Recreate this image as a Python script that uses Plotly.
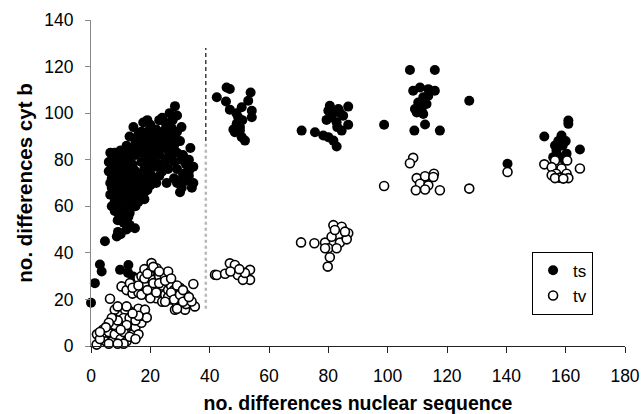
import plotly.graph_objects as go

# ---- data ----
ts_x = [
    # left cloud
    28.3, 26.5, 29, 27.5,
    14.3, 17.6, 20, 23, 25, 27, 30.5, 22, 19, 24,
    13, 16, 18, 21, 24, 26, 28, 30, 19, 15, 22, 27,
    6.5, 8, 10, 12, 14, 16, 18, 20, 22, 24, 26, 28, 33.5, 11, 17, 21, 25,
    6, 7.5, 9, 11, 13, 15, 17, 19, 21, 23, 25, 27, 30.5, 32, 14, 20,
    6, 8, 10, 12, 14, 16, 18, 20, 22, 24, 29, 31, 33, 11, 15, 19, 26,
    6.5, 8, 10, 12, 14, 16, 18, 20, 22, 25.5, 28, 30.6, 34.5, 32, 9, 13, 17,
    6.5, 8, 10, 12, 14, 16, 18, 9, 13, 7, 11, 15,
    7, 9, 11, 13, 15, 10, 8, 12,
    9.2, 12.6, 14.8, 11, 13,
    7, 9, 11, 13, 15, 17, 19, 21, 23, 8, 10, 12, 14, 16, 18, 7, 9, 12, 15, 17,
    20, 23, 25, 27, 29, 21, 23, 26, 28, 29, 31, 33, 19, 17, 13, 11, 9, 12, 10,
    29, 31, 33, 34.5, 30, 34,
    4.7, 8.7, 9.1, 3, 3.6, 1.3, 0, 9.8, 12.6, 12.5, 14.2,
    # ~50 cluster
    42.4, 45.7, 46.8, 45.5, 46.8, 53.8, 53, 50.8, 54.2, 54.2, 49.6, 49.1, 50.2, 48.5, 50.2, 51.9, 50.8, 51, 49, 48,
    # ~80 cluster
    71, 75.5, 78.3, 80, 81.7, 82.8, 80.5, 80, 81.7, 83.4, 86.7, 85, 86.7, 84.5, 79.4, 82.8, 81.1, 84, 83,
    98.8,
    # ~110 cluster
    107.5, 115.9, 108.6, 110.9, 113.7, 115.9, 112, 113.7, 110.3, 113.1, 109.2, 111.5, 112, 109.8, 112.6, 109, 117.6, 127.5,
    140.4,
    # ~160 cluster
    152.8, 160.9, 160.9, 158.6, 156.4, 159, 164.8, 156.9, 160.3, 155.8, 158.6, 159.7, 157.5, 160,
]
ts_y = [
    103, 100, 99, 97,
    94, 96, 95, 97, 96, 94, 94, 93, 97, 98,
    90, 91, 89, 90, 91, 89, 90, 88, 92, 88, 88, 92,
    83, 83, 84, 83, 85, 86, 85, 87, 86, 85, 84, 86, 85, 81, 83, 84, 87,
    79, 80, 78, 79, 80, 82, 79, 81, 80, 82, 79, 81, 80, 78, 78, 78,
    75, 76, 74, 75, 77, 73, 76, 74, 77, 75, 76, 74, 73, 77, 75, 73, 76,
    70, 71, 69, 72, 70, 68, 71, 69, 70, 70, 72, 68, 70, 71, 73, 68, 72,
    65, 66, 64, 67, 63, 65, 66, 62, 62, 68, 66, 67,
    60, 61, 59, 58, 60, 57, 58, 61,
    57, 55.5, 50.6, 53, 52,
    72, 67, 71, 74, 71, 69, 67, 72, 73, 62, 59, 64, 66, 62, 63, 77, 81, 86, 89, 92,
    91, 89, 93, 89, 92, 82, 78, 81, 79, 83, 82, 80, 84, 88, 57, 55, 54, 50, 48,
    70, 72, 75, 77, 66, 68,
    45, 47, 49, 35, 32, 27, 18.6, 32.7, 34.8, 31.4, 29.8,
    106.8, 111, 110.4, 105, 101.5, 108.9, 105.3, 102.5, 101, 98.2, 98.2, 95.4, 94, 91.8, 92.5, 88.2, 89.7, 97, 100, 93,
    92.5, 91.8, 90.4, 89.7, 88.2, 85.7, 103.2, 101, 100.3, 101.8, 102.8, 98.9, 95, 92.5, 97.1, 96.1, 98.2, 100, 94,
    95,
    118.5, 118.5, 109.6, 111, 110.3, 109.6, 106.8, 107.5, 104.6, 103.9, 101.8, 101, 99.6, 100.3, 95.1, 92.5, 92.5, 105.3,
    78.3,
    90, 96.8, 95.4, 90.4, 86.1, 86.1, 84.4, 84, 82.6, 81.1, 81.1, 79.7, 88, 88,
]

tv_x = [
    # lower-left cluster
    -0.3, 1.9, 2, 4, 4, 5, 6, 7, 7, 8, 8, 9, 10, 10, 10, 11, 12, 12, 13, 13, 14, 14, 15, 15, 16, 17, 17,
    18.2, 6.4, 8, 11.5, 9, 12, 13, 11, 16, 15, 18.8,
    3, 6, 9, 8, 11, 13, 15, 16, 14, 12, 10, 9, 7, 6, 5, 3,
    # upper-left cluster
    10.3, 12, 13.1, 14, 15, 16, 16, 17, 18, 18, 20.4, 19, 20, 20, 21, 22, 22.1, 22, 23, 23, 24, 24, 25, 25,
    26, 26, 27, 27, 28, 28.3, 29, 29, 30, 30, 31.7, 32, 32, 35, 33.9, 34.5, 24.9, 26, 20, 17,
    14, 16, 18, 19, 21, 21, 23, 23, 25, 26, 27, 28, 29, 30, 31, 33, 31, 27, 19, 22, 25, 29,
    # ~50 cluster
    41.8, 46.8, 48.5, 42.4, 45.2, 49.5, 53.6, 53.6, 51.2, 51.9, 47, 50,
    # ~80 cluster
    70.8, 75.3, 78.9, 80, 81.7, 84.5, 86.7, 83.3, 81.1, 83.9, 82.8, 80.5, 79.8, 86.2, 85.6, 82.2, 78.9,
    # ~110 cluster
    108.6, 107.5, 98.8, 109.8, 112.6, 115.6, 115.4, 110.9, 113.7, 109.5, 112.6, 117.6, 127.5, 140.4,
    # ~160 cluster
    152.8, 156.4, 160.5, 164.8, 155.3, 158.6, 156.8, 155.3, 158.1, 160.3, 160.9, 156.4, 159.2,
]
tv_y = [
    2.8, 0.6, 5, 4, 7, 2, 6, 9, 2, 12, 5, 8, 14, 3, 10, 6, 12, 2, 9, 15, 5, 11, 13, 8, 16, 10, 13,
    15.6, 20.3, 15.6, 15.6, 17, 17, 4, 1, 5, 3, 12.2,
    3, 1, 1, 9, 12, 12, 11, 13, 14, 9, 7, 11, 12, 10, 8, 6,
    25.6, 24, 27, 22.5, 25, 29.1, 23, 30, 26, 33, 35.6, 22, 29, 32, 25, 33, 33.4, 20.5, 23, 30, 26, 19,
    31, 22, 28, 24, 20, 26, 24, 15.6, 22, 18, 25, 20, 15.6, 22, 18, 17, 19.1, 26.6, 29.8, 32, 20.5, 22,
    25, 26, 29, 31, 27, 34, 32, 27, 28, 21, 23, 20, 26, 22, 19, 21, 24, 29, 24, 23, 19, 16,
    30.6, 35.5, 34.8, 30.5, 31, 30.5, 32.7, 28.4, 28.4, 31.4, 32, 33,
    44.5, 44.1, 44.4, 42, 51.9, 51.2, 48.4, 47.6, 46.9, 44.4, 42, 38.1, 34.1, 45.8, 49.1, 49.8, 42,
    80.8, 78.5, 68.7, 72.1, 72.9, 74, 72.6, 69.7, 69, 66.9, 67.2, 66.9, 67.6, 74.7,
    78, 79.7, 79.7, 76.2, 76.8, 76.2, 74, 73.3, 72.3, 74, 72.1, 72.1, 71.9,
]

series_names = ["ts", "tv"]
x_ticks = [0, 20, 40, 60, 80, 100, 120, 140, 160, 180]
y_ticks = [0, 20, 40, 60, 80, 100, 120, 140]
x_title = "no. differences nuclear sequence"
y_title = "no. differences cyt b"

# divider line (x position, lower-grey part and upper-black part extents)
divider_x = 38.7
divider_grey = [16, 88]
divider_black = [88, 128]

FONT = "Liberation Sans, Arial, sans-serif"

fig = go.Figure()
fig.add_trace(go.Scatter(
    x=ts_x, y=ts_y, mode="markers", name=series_names[0], legendgroup="a",
    marker=dict(size=10, color="black", line=dict(width=0)),
    cliponaxis=False,
))
fig.add_trace(go.Scatter(
    x=tv_x, y=tv_y, mode="markers", name=series_names[1], legendgroup="b",
    marker=dict(size=9, color="white", line=dict(width=1.6, color="black")),
    cliponaxis=False,
))

fig.add_shape(type="line", xref="x", yref="y", x0=divider_x, x1=divider_x,
              y0=divider_grey[0], y1=divider_grey[1],
              line=dict(color="#b8b8b8", width=2.5, dash="dot"), layer="below")
fig.add_shape(type="line", xref="x", yref="y", x0=divider_x, x1=divider_x,
              y0=divider_black[0], y1=divider_black[1],
              line=dict(color="#222", width=1.3, dash="4px,3px"), layer="below")

fig.update_layout(
    width=644, height=414,
    margin=dict(l=91, r=19, t=20, b=67.5, autoexpand=False),
    paper_bgcolor="white", plot_bgcolor="white",
    font=dict(family=FONT, color="black", size=17),
    showlegend=True,
    legend=dict(
        x=0.826, y=0.289, xanchor="left", yanchor="top",
        bordercolor="black", borderwidth=1, bgcolor="white",
        font=dict(size=17), tracegroupgap=0,
        itemwidth=30,
    ),
    xaxis=dict(
        range=[0, 180], tickvals=x_ticks, ticktext=[str(v) for v in x_ticks],
        showline=True, linecolor="#222", linewidth=1,
        ticks="outside", ticklen=6, tickcolor="#222",
        showgrid=False, zeroline=False, automargin=False,
        tickfont=dict(size=17.5), ticklabelstandoff=8,
        title=dict(text="<b>" + x_title + "</b>", font=dict(size=19.5), standoff=12),
    ),
    yaxis=dict(
        range=[0, 140], tickvals=y_ticks, ticktext=[str(v) for v in y_ticks],
        showline=True, linecolor="#888", linewidth=1,
        ticks="outside", ticklen=5, tickcolor="#888",
        showgrid=False, zeroline=False, automargin=False,
        tickfont=dict(size=17.5), ticklabelstandoff=8,
        title=dict(text="<b>" + y_title + "</b>", font=dict(size=20.5), standoff=6),
    ),
)

fig.write_html("out.html", config={"displayModeBar": False},
               post_script="document.body.style.margin='0';")
